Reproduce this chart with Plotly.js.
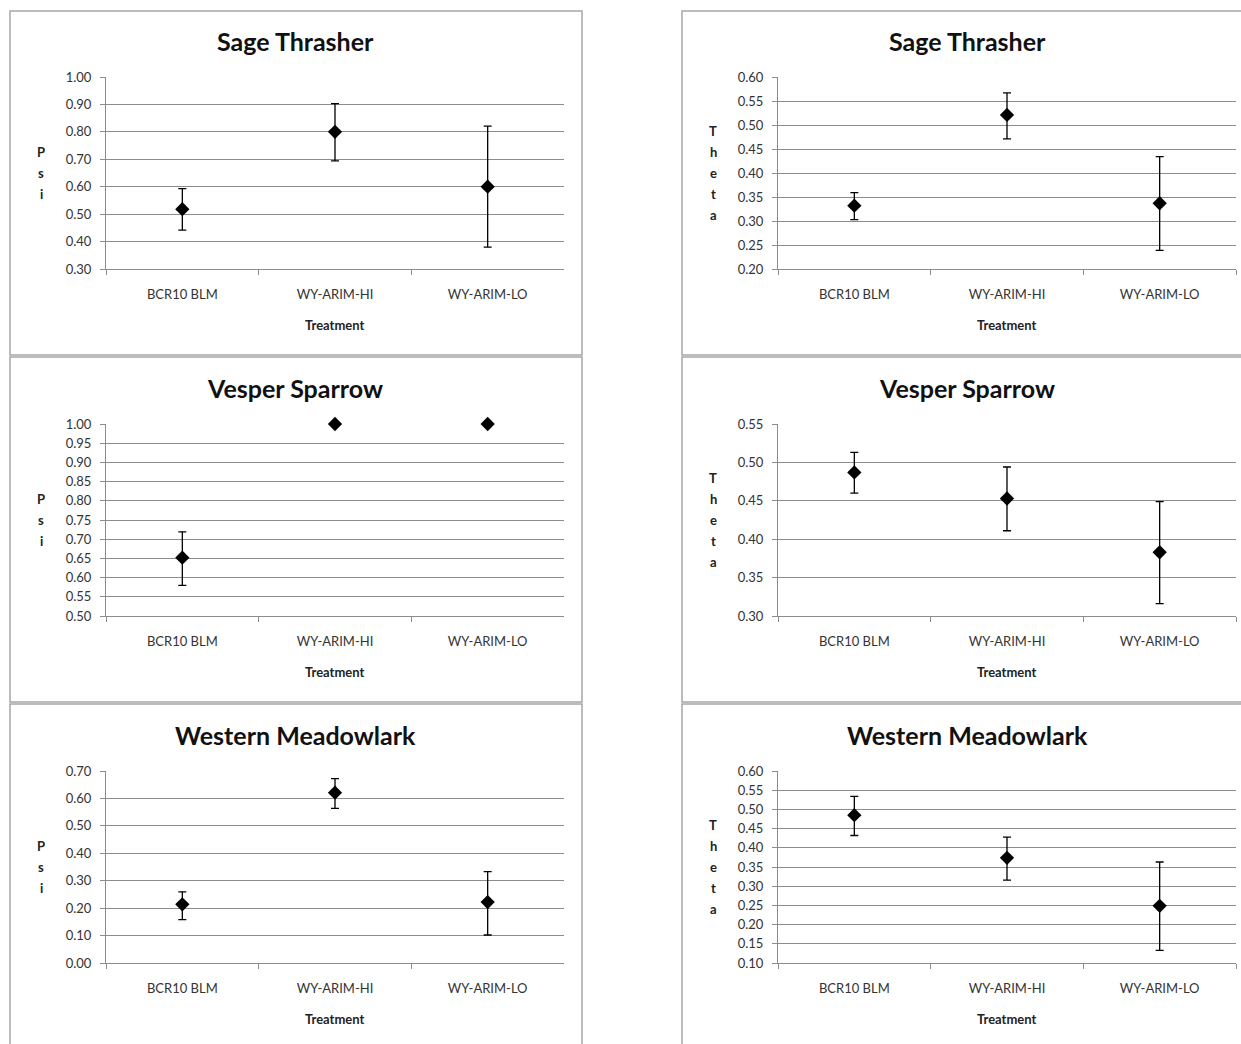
<!DOCTYPE html>
<html>
<head>
<meta charset="utf-8">
<script src="https://cdn.plot.ly/plotly-3.0.1.min.js"></script>
<style>
  html, body { margin: 0; padding: 0; background: #ffffff; }
  #chart { width: 1241px; height: 1044px; }
</style>
</head>
<body>
<div id="chart"></div>
<script>
// ---------- Data ----------
const categories = ['BCR10 BLM', 'WY-ARIM-HI', 'WY-ARIM-LO'];

const speciesTitles = ['Sage Thrasher', 'Vesper Sparrow', 'Western Meadowlark'];

// Psi (left column)
const sageThrasherPsi       = [0.518, 0.800, 0.600];
const sageThrasherPsiUpper  = [0.593, 0.903, 0.821];
const sageThrasherPsiLower  = [0.442, 0.694, 0.380];

const vesperSparrowPsi      = [0.652, 1.000, 1.000];
const vesperSparrowPsiUpper = [0.719, 1.000, 1.000];
const vesperSparrowPsiLower = [0.580, 1.000, 1.000];

const meadowlarkPsi         = [0.214, 0.621, 0.222];
const meadowlarkPsiUpper    = [0.259, 0.672, 0.333];
const meadowlarkPsiLower    = [0.158, 0.564, 0.102];

// Theta (right column)
const sageThrasherTheta       = [0.332, 0.521, 0.337];
const sageThrasherThetaUpper  = [0.359, 0.567, 0.434];
const sageThrasherThetaLower  = [0.303, 0.471, 0.239];

const vesperSparrowTheta      = [0.487, 0.453, 0.383];
const vesperSparrowThetaUpper = [0.513, 0.494, 0.449];
const vesperSparrowThetaLower = [0.460, 0.411, 0.316];

const meadowlarkTheta         = [0.485, 0.374, 0.249];
const meadowlarkThetaUpper    = [0.534, 0.428, 0.363];
const meadowlarkThetaLower    = [0.432, 0.316, 0.133];

// Axis ranges and tick steps per panel
const psiRanges   = [[0.30, 1.00], [0.50, 1.00], [0.00, 0.70]];
const psiSteps    = [0.10, 0.05, 0.10];
const thetaRanges = [[0.20, 0.60], [0.30, 0.55], [0.10, 0.60]];
const thetaSteps  = [0.05, 0.05, 0.05];

const xAxisTitle = 'Treatment';
const psiLabel = 'Psi';
const thetaLabel = 'Theta';

// ---------- Layout geometry (pixels) ----------
const W = 1241, H = 1044;
const FONT = 'Lato, "Open Sans", sans-serif';
const colX = [[106, 564], [778, 1236]];           // plot area x in px
const rowY = [[77, 269], [424, 616], [771, 963]]; // plot area y in px (top, bottom)
const boxX = [[10, 582], [682, 1250]];
const boxY = [[11, 355], [357, 702], [704, 1050]];

const px = x => x / W;
const py = y => 1 - y / H;

const panels = [
  {col:0,row:0,v:sageThrasherPsi,u:sageThrasherPsiUpper,l:sageThrasherPsiLower,range:psiRanges[0],step:psiSteps[0],label:psiLabel},
  {col:1,row:0,v:sageThrasherTheta,u:sageThrasherThetaUpper,l:sageThrasherThetaLower,range:thetaRanges[0],step:thetaSteps[0],label:thetaLabel},
  {col:0,row:1,v:vesperSparrowPsi,u:vesperSparrowPsiUpper,l:vesperSparrowPsiLower,range:psiRanges[1],step:psiSteps[1],label:psiLabel},
  {col:1,row:1,v:vesperSparrowTheta,u:vesperSparrowThetaUpper,l:vesperSparrowThetaLower,range:thetaRanges[1],step:thetaSteps[1],label:thetaLabel},
  {col:0,row:2,v:meadowlarkPsi,u:meadowlarkPsiUpper,l:meadowlarkPsiLower,range:psiRanges[2],step:psiSteps[2],label:psiLabel},
  {col:1,row:2,v:meadowlarkTheta,u:meadowlarkThetaUpper,l:meadowlarkThetaLower,range:thetaRanges[2],step:thetaSteps[2],label:thetaLabel}
];

const traces = [];
const layout = {
  width: W, height: H,
  margin: {l:0, r:0, t:0, b:0},
  paper_bgcolor: '#ffffff',
  plot_bgcolor: '#ffffff',
  showlegend: false,
  font: {family: FONT, size: 13, color: '#222'},
  shapes: [],
  annotations: []
};

panels.forEach((p, i) => {
  const n = i + 1;
  const xa = 'x' + (n === 1 ? '' : n), ya = 'y' + (n === 1 ? '' : n);
  const xk = 'xaxis' + (n === 1 ? '' : n), yk = 'yaxis' + (n === 1 ? '' : n);

  traces.push({
    type: 'scatter', mode: 'markers',
    x: categories, y: p.v,
    xaxis: xa, yaxis: ya,
    cliponaxis: false,
    marker: {symbol: 'diamond', size: 11, color: '#000000'},
    error_y: {
      type: 'data', symmetric: false,
      array: p.u.map((u, k) => u - p.v[k]),
      arrayminus: p.l.map((l, k) => p.v[k] - l),
      color: '#000000', thickness: 1.3, width: 4
    },
    hoverinfo: 'x+y'
  });

  const [x0, x1] = colX[p.col];
  const [yt, yb] = rowY[p.row];

  layout[xk] = {
    domain: [px(x0), px(x1)],
    anchor: ya,
    type: 'category',
    range: [-0.5, 2.5],
    showgrid: false,
    showline: true, linecolor: '#8c8c8c', linewidth: 1,
    ticks: 'outside', tickson: 'boundaries', ticklen: 5, tickcolor: '#8c8c8c',
    ticklabelstandoff: 13,
    tickfont: {family: FONT, size: 13, color: '#333'},
    zeroline: false, fixedrange: true
  };
  layout[yk] = {
    domain: [py(yb), py(yt)],
    anchor: xa,
    range: p.range,
    tick0: p.range[0], dtick: p.step,
    tickformat: '.2f',
    showgrid: true, gridcolor: '#8c8c8c', gridwidth: 1,
    showline: true, linecolor: '#8c8c8c', linewidth: 1,
    ticks: 'outside', ticklen: 5, tickcolor: '#8c8c8c',
    ticklabelstandoff: 6,
    tickfont: {family: FONT, size: 13, color: '#333'},
    zeroline: false, fixedrange: true
  };

  // Title
  layout.annotations.push({
    text: '<b>' + speciesTitles[p.row] + '</b>',
    xref: 'paper', yref: 'paper',
    x: px(p.col === 0 ? 295 : 967),
    y: py(yt - 36),
    xanchor: 'center', yanchor: 'middle',
    showarrow: false,
    font: {family: FONT, size: 25, color: '#111'}
  });
  // X-axis title
  layout.annotations.push({
    text: '<b>' + xAxisTitle + '</b>',
    xref: 'paper', yref: 'paper',
    x: px((x0 + x1) / 2), y: py(yb + 56),
    xanchor: 'center', yanchor: 'middle',
    showarrow: false,
    font: {family: FONT, size: 13, color: '#222'}
  });
  // Stacked vertical Y-axis title, one letter per line
  const letters = p.label.split('');
  const spacing = 21;
  const mid = (yt + yb) / 2;
  letters.forEach((ch, k) => {
    layout.annotations.push({
      text: '<b>' + ch + '</b>',
      xref: 'paper', yref: 'paper',
      x: px(x0 - 65),
      y: py(mid + (k - (letters.length - 1) / 2) * spacing),
      xanchor: 'center', yanchor: 'middle',
      showarrow: false,
      font: {family: FONT, size: 13, color: '#222'}
    });
  });
  // Panel border
  layout.shapes.push({
    type: 'rect', xref: 'paper', yref: 'paper',
    x0: px(boxX[p.col][0]), x1: px(boxX[p.col][1]),
    y0: py(boxY[p.row][1]), y1: py(boxY[p.row][0]),
    line: {color: '#a6a6a6', width: 1.5},
    fillcolor: 'rgba(0,0,0,0)', layer: 'below'
  });
});

Plotly.newPlot('chart', traces, layout, {displayModeBar: false, staticPlot: true});
</script>
</body>
</html>
